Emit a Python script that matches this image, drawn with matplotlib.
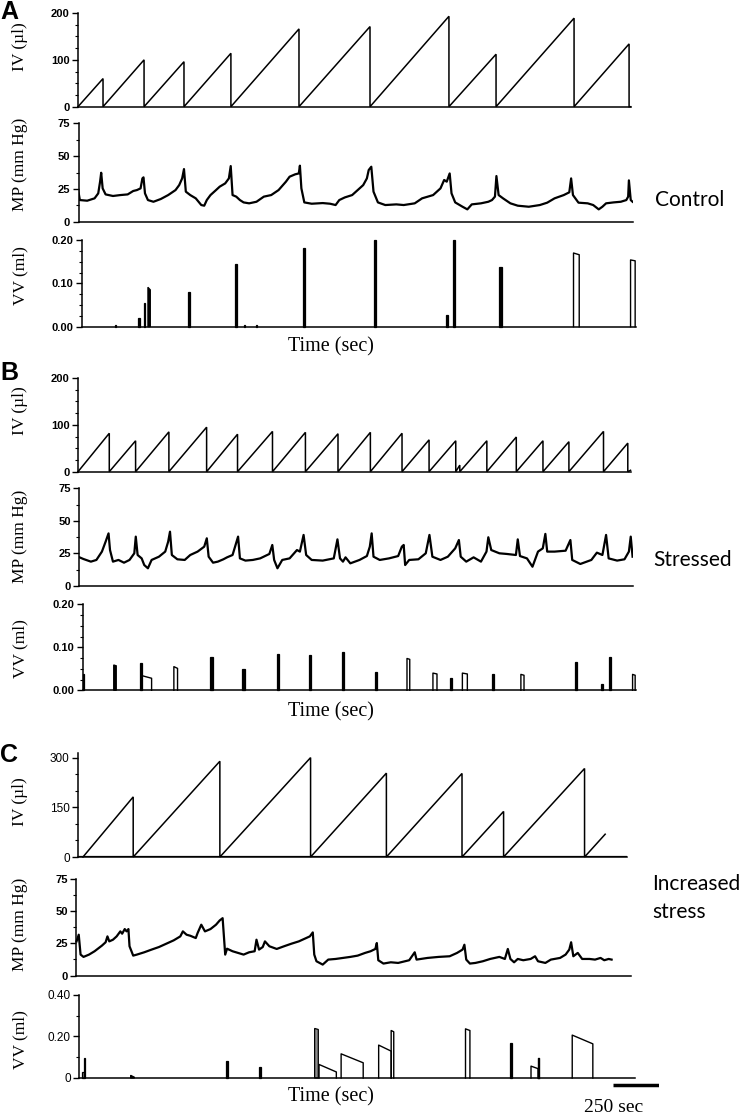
import numpy as np
import matplotlib.pyplot as plt
from matplotlib.ticker import MultipleLocator

W, H = 752, 1118
SEC_PER_PX = 250 / 46.0   # from the 250 sec scale bar
X0 = 78                   # pixel column taken as t = 0

# ---------------- data (time in sec) ----------------
# Panel A - control
A_iv_reset = [136, 359, 576, 831, 1201, 1587, 2016, 2272, 2696, 2995]
A_iv_peak = [60, 100, 96, 114, 166, 171, 193, 112, 189, 134]

A_mp_t = [0, 10, 50, 90, 110, 120, 126, 134, 150, 190, 230, 270, 300, 320, 340, 350, 356, 364,
          380, 410, 450, 490, 530, 550, 566, 576, 586, 610, 640, 670, 686, 700, 720, 750, 770,
          800, 820, 830, 840, 860, 880, 900, 930, 970, 1010, 1050, 1090, 1130, 1150, 1180, 1200,
          1206, 1214, 1230, 1270, 1330, 1370, 1400, 1420, 1450, 1490, 1520, 1550, 1570, 1580,
          1594, 1606, 1630, 1670, 1730, 1770, 1830, 1870, 1930, 1970, 1990, 2004, 2020, 2030,
          2050, 2090, 2116, 2140, 2190, 2230, 2250, 2266, 2274, 2286, 2310, 2350, 2390, 2450,
          2510, 2550, 2590, 2640, 2670, 2680, 2690, 2720, 2770, 2800, 2830, 2850, 2870, 2910,
          2950, 2980, 2990, 2994, 3004, 3014]
A_mp_v = [24.9, 16.5, 16.0, 17.8, 21.6, 30.5, 37.3, 25.4, 20.8, 19.6, 20.3, 20.8, 23.4, 24.1, 25.4,
          33.0, 33.8, 21.6, 16.5, 15.2, 17.3, 20.3, 24.1, 27.9, 33.0, 40.1, 22.9, 20.3, 17.8, 12.7,
          12.2, 16.5, 20.3, 24.1, 26.7, 29.2, 33.0, 42.4, 20.3, 19.1, 16.5, 14.7, 14.0, 15.2, 19.1,
          20.3, 24.1, 30.5, 34.3, 36.1, 36.8, 42.7, 25.4, 14.7, 13.7, 14.2, 13.7, 12.7, 16.5, 18.5,
          20.3, 24.1, 27.9, 33.0, 39.4, 41.9, 22.9, 14.7, 12.7, 13.2, 12.7, 14.0, 17.8, 20.3, 25.4,
          31.8, 30.5, 36.8, 21.6, 14.7, 11.4, 9.4, 13.2, 14.0, 15.2, 16.5, 19.1, 34.8, 20.3, 17.8,
          14.0, 12.2, 11.4, 12.7, 14.5, 17.8, 20.3, 22.4, 33.0, 20.3, 14.5, 14.0, 12.7, 9.4, 11.4,
          14.0, 14.7, 15.2, 16.5, 19.1, 31.5, 16.5, 15.2]

A_vv_t0 = [203, 327, 357, 380, 599, 852, 903, 967, 1224, 1611, 2000, 2036, 2290, 2693, 3003]
A_vv_t1 = [209, 335, 362, 393, 610, 863, 908, 972, 1234, 1622, 2011, 2051, 2302, 2724, 3028]
A_vv_v0 = [0.003, 0.019, 0.054, 0.091, 0.079, 0.144, 0.003, 0.003, 0.182, 0.200, 0.027, 0.200,
           0.138, 0.170, 0.154]
A_vv_v1 = [0.003, 0.019, 0.054, 0.085, 0.079, 0.144, 0.003, 0.003, 0.182, 0.200, 0.027, 0.200,
           0.138, 0.166, 0.152]
A_vv_kind = ['fill'] * 13 + ['open', 'open']

# Panel B - stressed
B_iv_reset = [170, 313, 494, 699, 867, 1057, 1236, 1413, 1589, 1761, 1908, 2053, 2075, 2222,
              2382, 2527, 2668, 2856, 2988]
B_iv_peak = [82, 66, 85, 95, 80, 86, 84, 81, 84, 82, 68, 66, 14, 66, 74, 66, 64, 86, 61]

B_mp_t = [0, 30, 70, 100, 130, 150, 166, 174, 190, 220, 250, 280, 306, 314, 324, 346, 360, 380,
          400, 440, 474, 490, 500, 510, 540, 580, 610, 650, 686, 700, 710, 734, 760, 790, 810,
          840, 870, 880, 910, 950, 990, 1040, 1056, 1066, 1084, 1110, 1150, 1190, 1206, 1226,
          1240, 1270, 1330, 1390, 1410, 1424, 1440, 1454, 1480, 1530, 1570, 1586, 1596, 1606,
          1640, 1690, 1740, 1760, 1770, 1778, 1800, 1850, 1890, 1910, 1926, 1970, 2010, 2050,
          2070, 2080, 2110, 2150, 2190, 2220, 2230, 2246, 2290, 2330, 2380, 2390, 2402, 2440,
          2470, 2500, 2526, 2540, 2550, 2590, 2650, 2676, 2686, 2730, 2790, 2820, 2850, 2870,
          2884, 2930, 2970, 2994, 3004, 3014]
B_mp_v = [22.5, 20.7, 18.7, 20.0, 26.4, 34.0, 40.4, 27.6, 18.7, 20.0, 17.9, 20.0, 25.1, 37.9,
          23.8, 21.2, 16.1, 13.6, 20.0, 22.5, 26.4, 34.0, 41.7, 23.8, 20.5, 20.0, 23.8, 26.4, 30.2,
          36.6, 22.5, 17.9, 18.7, 20.5, 22.0, 23.8, 37.9, 21.2, 19.5, 20.0, 21.2, 24.6, 31.5, 20.0,
          13.6, 20.0, 21.2, 27.6, 26.4, 39.2, 23.8, 20.0, 19.5, 21.2, 35.8, 21.2, 18.7, 22.0, 17.4,
          20.0, 23.0, 30.2, 40.4, 22.5, 20.0, 21.2, 23.0, 30.2, 31.5, 16.1, 20.0, 20.5, 25.1, 39.2,
          22.5, 20.0, 22.5, 28.9, 35.3, 22.5, 18.7, 22.0, 18.7, 26.4, 37.4, 27.6, 25.1, 24.6, 23.8,
          35.8, 23.0, 21.2, 14.8, 26.4, 28.9, 40.0, 26.4, 26.4, 27.1, 35.3, 20.0, 16.9, 20.0, 25.6,
          23.8, 39.2, 21.2, 19.5, 20.5, 26.4, 37.9, 22.5]

B_vv_t0 = [29, 194, 335, 348, 521, 720, 890, 1079, 1254, 1435, 1613, 1788, 1929, 2024, 2089,
           2248, 2407, 2699, 2840, 2885, 3014]
B_vv_t1 = [34, 208, 348, 400, 541, 731, 905, 1090, 1267, 1448, 1624, 1803, 1951, 2034, 2116,
           2259, 2424, 2710, 2851, 2898, 3028]
B_vv_v0 = [0.038, 0.059, 0.064, 0.034, 0.055, 0.077, 0.050, 0.084, 0.081, 0.090, 0.043, 0.074,
           0.040, 0.028, 0.040, 0.037, 0.037, 0.065, 0.015, 0.078, 0.037]
B_vv_v1 = [0.038, 0.057, 0.064, 0.028, 0.051, 0.077, 0.050, 0.084, 0.081, 0.090, 0.043, 0.072,
           0.038, 0.028, 0.038, 0.037, 0.035, 0.065, 0.015, 0.078, 0.035]
B_vv_kind = ['fill', 'fill', 'fill', 'open', 'open', 'fill', 'fill', 'fill', 'fill', 'fill', 'fill',
             'open', 'open', 'fill', 'open', 'fill', 'open', 'fill', 'fill', 'fill', 'open']

# Panel C - increased stress
C_iv_start = 27
C_iv_reset = [300, 771, 1264, 1676, 2087, 2313, 2753]
C_iv_peak = [182, 290, 301, 254, 253, 138, 268]
C_iv_end = (2865, 69)

C_mp_t = [-8, 4, 14, 30, 60, 90, 130, 150, 160, 170, 190, 210, 230, 240, 254, 264, 274, 280, 300,
          320, 360, 400, 440, 480, 520, 556, 570, 590, 610, 640, 650, 670, 690, 720, 750, 770, 786,
          800, 810, 840, 870, 900, 930, 960, 970, 984, 1004, 1016, 1040, 1080, 1120, 1160, 1200,
          1240, 1260, 1276, 1284, 1296, 1330, 1360, 1400, 1440, 1480, 1520, 1560, 1590, 1616,
          1624, 1632, 1660, 1700, 1740, 1800, 1830, 1840, 1900, 1960, 2020, 2060, 2090, 2100,
          2110, 2130, 2160, 2200, 2240, 2290, 2320, 2336, 2350, 2370, 2390, 2420, 2460, 2484,
          2500, 2540, 2570, 2620, 2650, 2670, 2680, 2692, 2716, 2740, 2780, 2810, 2840, 2860,
          2884, 2900]
C_mp_v = [26.6, 31.8, 16.3, 14.5, 16.3, 18.9, 23.3, 25.9, 30.5, 26.6, 27.9, 30.5, 34.4, 32.6, 36.2,
          34.4, 36.2, 22.8, 15.5, 16.3, 18.1, 20.2, 22.2, 24.8, 27.4, 30.5, 34.4, 31.8, 31.0, 29.2,
          33.1, 39.6, 34.4, 36.2, 39.6, 42.9, 44.7, 16.3, 20.9, 18.9, 17.6, 16.3, 18.1, 18.9, 27.9,
          20.2, 22.2, 26.6, 22.8, 20.7, 22.8, 24.8, 26.6, 29.2, 30.5, 33.6, 16.3, 11.1, 8.5, 12.4,
          12.9, 13.7, 14.5, 15.5, 17.6, 18.9, 20.7, 25.3, 11.9, 9.3, 10.3, 9.8, 11.9, 18.1, 12.4,
          13.7, 14.5, 15.0, 17.6, 20.2, 24.0, 12.4, 9.3, 9.8, 11.1, 12.9, 14.5, 12.9, 20.7, 12.9,
          10.3, 12.9, 11.9, 12.9, 15.0, 11.1, 9.8, 12.4, 13.7, 16.3, 20.2, 25.9, 15.0, 17.6, 12.9,
          12.9, 12.4, 13.7, 11.9, 12.9, 12.4]

C_vv_t0 = [20, 30, 286, 806, 984, 1286, 1310, 1430, 1634, 1702, 2106, 2346, 2462, 2500, 2686]
C_vv_t1 = [30, 40, 306, 814, 992, 1306, 1404, 1550, 1702, 1716, 2130, 2356, 2500, 2506, 2798]
C_vv_v0 = [0.029, 0.097, 0.013, 0.080, 0.053, 0.238, 0.065, 0.116, 0.158, 0.228, 0.236, 0.169,
           0.057, 0.097, 0.206]
C_vv_v1 = [0.029, 0.097, 0.004, 0.080, 0.053, 0.233, 0.029, 0.073, 0.129, 0.222, 0.228, 0.169,
           0.045, 0.097, 0.164]
C_vv_kind = ['grey', 'fill', 'fill', 'fill', 'fill', 'grey', 'open', 'open', 'open', 'open', 'open',
             'fill', 'open', 'open', 'open']

# ---------------- drawing ----------------
fig = plt.figure(figsize=(W / 100, H / 100), dpi=100)


def add_ax(left, right, top, bottom):
    ax = fig.add_axes([left / W, 1 - bottom / H, (right - left) / W, (bottom - top) / H])
    ax.set_xlim((left - X0) * SEC_PER_PX, (right - X0) * SEC_PER_PX)
    for s in ['top', 'right']:
        ax.spines[s].set_visible(False)
    ax.spines['left'].set_linewidth(1.1)
    ax.spines['bottom'].set_linewidth(1.1)
    ax.set_xticks([])
    ax.tick_params(axis='y', which='major', direction='out', length=4, width=1, pad=2)
    ax.tick_params(axis='y', which='minor', direction='out', length=2.5, width=0.8)
    ax.patch.set_alpha(0)
    return ax


def style_ticks(ax, bold):
    for lbl in ax.get_yticklabels():
        lbl.set_fontfamily('Liberation Sans')
        lbl.set_fontweight('bold' if bold else 'normal')
        lbl.set_fontsize(8 if bold else 8.5)


def sawtooth(ax, start, resets, peaks, end):
    xs, ys = [start], [0]
    for t, p in zip(resets, peaks):
        xs += [t, t]
        ys += [p, 0]
    xs.append(end[0])
    ys.append(end[1])
    ax.plot(xs, ys, color='black', lw=1.1, solid_joinstyle='miter', clip_on=False)


def vv_events(ax, t0s, t1s, v0s, v1s, kinds):
    for t0, t1, v0, v1, k in zip(t0s, t1s, v0s, v1s, kinds):
        xs = [t0, t0, t1, t1]
        ys = [0, v0, v1, 0]
        if k == 'fill':
            ax.fill(xs, ys, facecolor='black', edgecolor='black', lw=0.9, clip_on=False)
        elif k == 'grey':
            ax.fill(xs, ys, facecolor='#8c8c8c', edgecolor='black', lw=0.9, clip_on=False)
        else:
            ax.plot(xs, ys, color='black', lw=1.0, clip_on=False)


def ylab(y, text):
    fig.text(20 / W, 1 - y / H, text, rotation=90, ha='center', va='center',
             family='Liberation Serif', fontsize=12.5)


def ftext(x, y, s, **kw):
    fig.text(x / W, 1 - y / H, s, **kw)


# ---- Panel A ----
ax = add_ax(78, 631, 13, 106.7)
sawtooth(ax, 0, A_iv_reset, A_iv_peak, (3003, 0))
ax.set_ylim(0, 200)
ax.set_yticks([0, 100, 200])
ax.yaxis.set_minor_locator(MultipleLocator(25))
style_ticks(ax, True)

ax = add_ax(78.5, 633, 123.3, 221.7)
ax.plot(A_mp_t, A_mp_v, color='black', lw=1.6)
ax.set_ylim(0, 75)
ax.set_yticks([0, 25, 50, 75])
ax.yaxis.set_minor_locator(MultipleLocator(12.5))
style_ticks(ax, True)

ax = add_ax(82, 636, 240, 326.7)
vv_events(ax, A_vv_t0, A_vv_t1, A_vv_v0, A_vv_v1, A_vv_kind)
ax.set_ylim(0, 0.2)
ax.set_yticks([0, 0.1, 0.2])
ax.set_yticklabels(['0.00', '0.10', '0.20'])
ax.yaxis.set_minor_locator(MultipleLocator(0.025))
style_ticks(ax, True)

ylab(47, 'IV (µl)')
ylab(164, 'MP (mm Hg)')
ylab(276, 'VV (ml)')
ftext(331, 347, 'Time (sec)', ha='center', va='center', family='Liberation Serif', fontsize=14.5)
ftext(655, 200, 'Control', ha='left', va='center', family='Lato', fontsize=15)
ftext(0, 12, 'A', ha='left', va='center', family='Liberation Sans', fontweight='bold', fontsize=18)

# ---- Panel B ----
ax = add_ax(78, 631, 378, 471.7)
sawtooth(ax, 0, B_iv_reset, B_iv_peak, (3003, 3))
ax.set_ylim(0, 200)
ax.set_yticks([0, 100, 200])
ax.yaxis.set_minor_locator(MultipleLocator(25))
style_ticks(ax, True)

ax = add_ax(79, 633, 488.3, 586)
ax.plot(B_mp_t, B_mp_v, color='black', lw=1.6)
ax.set_ylim(0, 75)
ax.set_yticks([0, 25, 50, 75])
ax.yaxis.set_minor_locator(MultipleLocator(12.5))
style_ticks(ax, True)

ax = add_ax(83, 636, 604.3, 690.3)
vv_events(ax, B_vv_t0, B_vv_t1, B_vv_v0, B_vv_v1, B_vv_kind)
ax.set_ylim(0, 0.2)
ax.set_yticks([0, 0.1, 0.2])
ax.set_yticklabels(['0.00', '0.10', '0.20'])
ax.yaxis.set_minor_locator(MultipleLocator(0.025))
style_ticks(ax, True)

ylab(411, 'IV (µl)')
ylab(536, 'MP (mm Hg)')
ylab(649, 'VV (ml)')
ftext(331, 712, 'Time (sec)', ha='center', va='center', family='Liberation Serif', fontsize=14.5)
ftext(653, 560, 'Stressed', ha='left', va='center', family='Lato', fontsize=15)
ftext(0, 373, 'B', ha='left', va='center', family='Liberation Sans', fontweight='bold', fontsize=18)

# ---- Panel C ----
ax = add_ax(78, 627, 753, 857)
sawtooth(ax, C_iv_start, C_iv_reset, C_iv_peak, C_iv_end)
ax.axhline(0, color='black', lw=1.6)
ax.set_ylim(0, 315)
ax.set_yticks([0, 150, 300])
ax.yaxis.set_minor_locator(MultipleLocator(50))
style_ticks(ax, False)

ax = add_ax(76, 631, 879.3, 975.5)
ax.plot(C_mp_t, C_mp_v, color='black', lw=1.6, clip_on=False)
ax.set_ylim(0, 75)
ax.set_yticks([0, 25, 50, 75])
ax.yaxis.set_minor_locator(MultipleLocator(12.5))
style_ticks(ax, True)

ax = add_ax(79, 635, 994.7, 1078)
vv_events(ax, C_vv_t0, C_vv_t1, C_vv_v0, C_vv_v1, C_vv_kind)
ax.set_ylim(0, 0.4)
ax.set_yticks([0, 0.2, 0.4])
ax.set_yticklabels(['0', '0.20', '0.40'])
ax.yaxis.set_minor_locator(MultipleLocator(0.1))
style_ticks(ax, False)

ylab(802, 'IV (µl)')
ylab(924, 'MP (mm Hg)')
ylab(1040, 'VV (ml)')
ftext(331, 1097, 'Time (sec)', ha='center', va='center', family='Liberation Serif', fontsize=14.5)
ftext(652, 884, 'Increased', ha='left', va='center', family='Lato', fontsize=15)
ftext(652, 912, 'stress', ha='left', va='center', family='Lato', fontsize=15)
ftext(0, 755, 'C', ha='left', va='center', family='Liberation Sans', fontweight='bold', fontsize=18)

# scale bar: 250 sec
bar = fig.add_axes([613 / W, 1 - 1090 / H, 250 / SEC_PER_PX / W, 10 / H])
bar.axis('off')
bar.set_xlim(0, 250)
bar.set_ylim(0, 1)
bar.plot([0, 250], [0.5, 0.5], color='black', lw=2.5, solid_capstyle='butt')
ftext(614, 1108, '250 sec', ha='center', va='center', family='Liberation Serif', fontsize=14)

fig.savefig('out.png', dpi=100)
